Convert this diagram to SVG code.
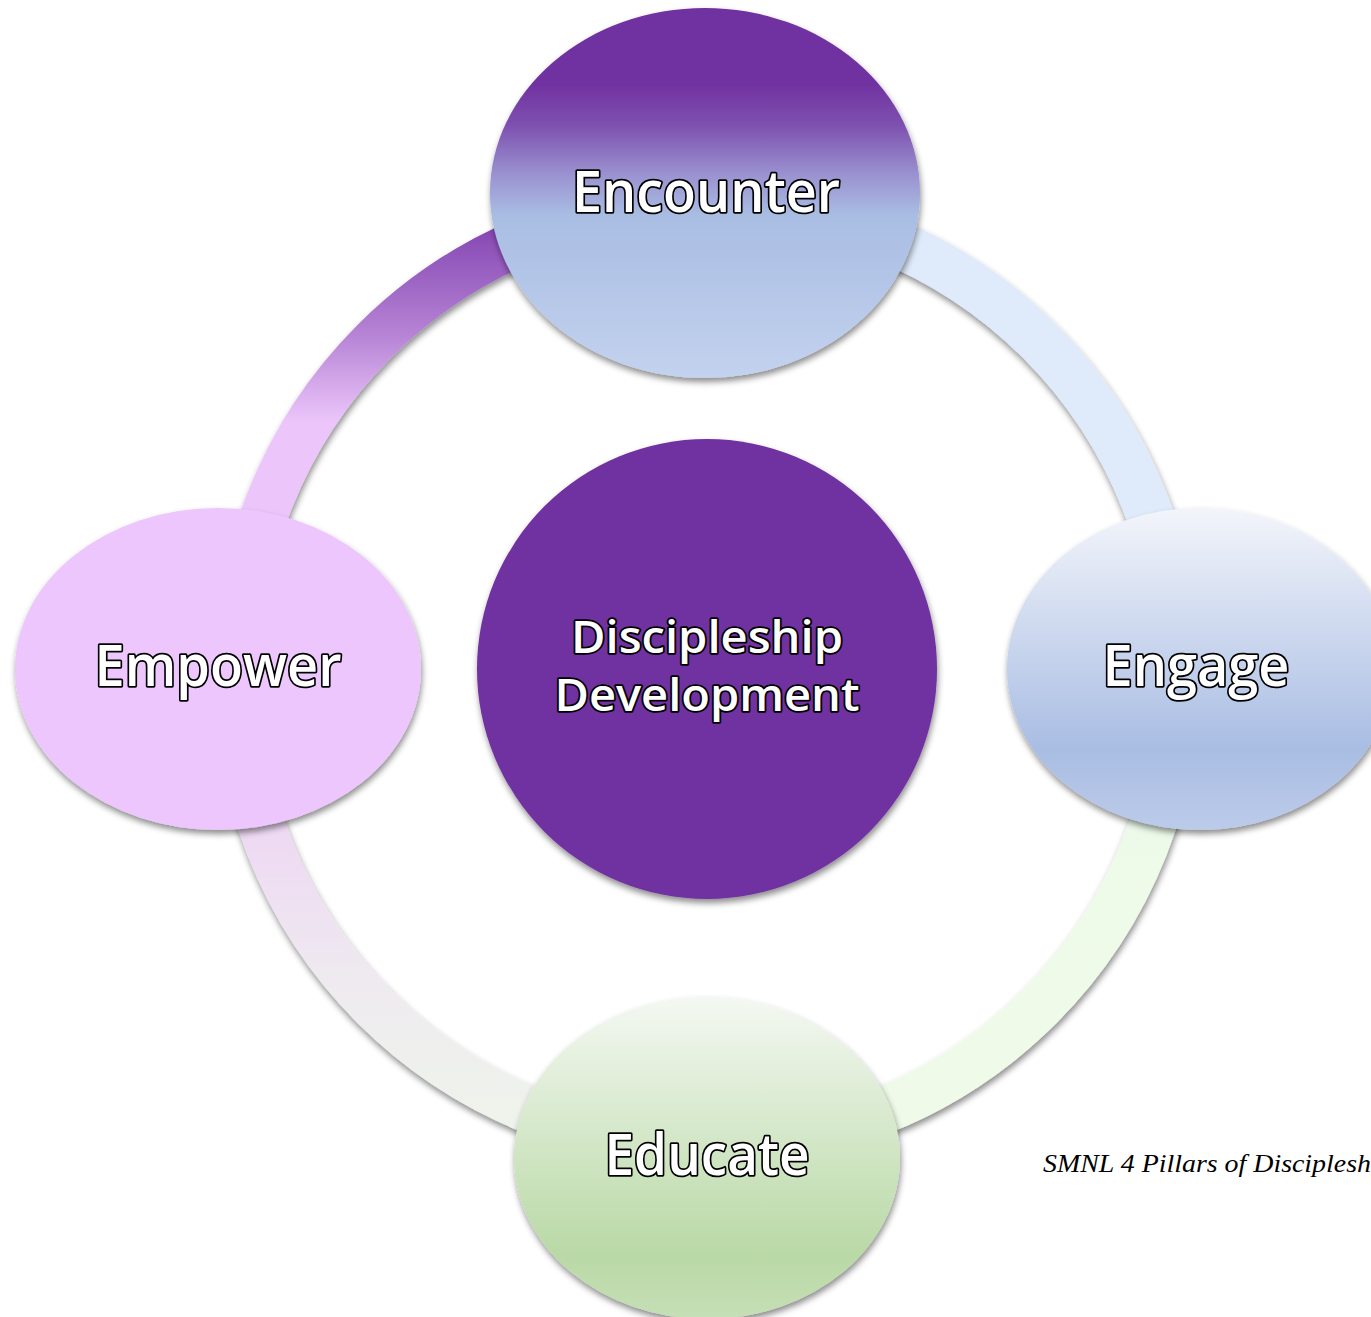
<svg xmlns="http://www.w3.org/2000/svg" width="1371" height="1317" viewBox="0 0 1371 1317">
  <style>
    .lbl { font-family: "Open Sans", Lato, "Liberation Sans", sans-serif; font-weight: 600; fill: #ffffff; stroke: #000000; stroke-width: 3.6; paint-order: stroke; stroke-linejoin: round; text-anchor: middle; }
    .big { font-size: 57px; }
    .mid { font-size: 46px; }
    .arc { fill: none; stroke-width: 47; }
    .caption { font-family: "Liberation Serif", "Times New Roman", serif; font-style: italic; font-size: 26px; fill: #000000; }
  </style>
  <defs>
    <filter id="shadow" x="-20%" y="-20%" width="140%" height="140%">
      <feDropShadow dx="1" dy="4" stdDeviation="3" flood-color="#000000" flood-opacity="0.45"/>
    </filter>
    <linearGradient id="gTL" gradientUnits="userSpaceOnUse" x1="0" y1="225" x2="0" y2="674">
      <stop offset="0" stop-color="#8446b2"/>
      <stop offset="0.24" stop-color="#b582d4"/>
      <stop offset="0.44" stop-color="#ecc6fb"/>
      <stop offset="1" stop-color="#ecc6fb"/>
    </linearGradient>
    <linearGradient id="gBL" gradientUnits="userSpaceOnUse" x1="0" y1="674" x2="0" y2="1144">
      <stop offset="0" stop-color="#ecc8fb"/>
      <stop offset="0.35" stop-color="#eedaf3"/>
      <stop offset="0.7" stop-color="#efecef"/>
      <stop offset="1" stop-color="#eef5ea"/>
    </linearGradient>
    <linearGradient id="gBR" gradientUnits="userSpaceOnUse" x1="0" y1="674" x2="0" y2="1144">
      <stop offset="0" stop-color="#e2f0f6"/>
      <stop offset="0.4" stop-color="#eefbe8"/>
      <stop offset="1" stop-color="#effbe8"/>
    </linearGradient>
    <linearGradient id="gEnc" x1="0" y1="0" x2="0" y2="1">
      <stop offset="0" stop-color="#7030a0"/>
      <stop offset="0.2" stop-color="#7030a0"/>
      <stop offset="0.32" stop-color="#7e52b0"/>
      <stop offset="0.45" stop-color="#9a92d0"/>
      <stop offset="0.56" stop-color="#a9bde3"/>
      <stop offset="1" stop-color="#c3d2ee"/>
    </linearGradient>
    <linearGradient id="gEng" x1="0" y1="0" x2="0" y2="1">
      <stop offset="0" stop-color="#f3f5fb"/>
      <stop offset="0.75" stop-color="#a9bde3"/>
      <stop offset="1" stop-color="#bccbea"/>
    </linearGradient>
    <linearGradient id="gEdu" x1="0" y1="0" x2="0" y2="1">
      <stop offset="0" stop-color="#f4f8f2"/>
      <stop offset="0.8" stop-color="#b9d9a6"/>
      <stop offset="1" stop-color="#c6dfb6"/>
    </linearGradient>
  </defs>
  <rect width="1371" height="1317" fill="#ffffff"/>

  <g id="connectors" filter="url(#shadow)">
    <path class="arc" stroke="url(#gTL)" d="M 707 203.5 A 470.5 470.5 0 0 0 236.5 674"/>
    <path class="arc" stroke="#dfebfb" d="M 707 203.5 A 470.5 470.5 0 0 1 1177.5 674"/>
    <path class="arc" stroke="url(#gBR)" d="M 1177.5 674 A 470.5 470.5 0 0 1 707 1144.5"/>
    <path class="arc" stroke="url(#gBL)" d="M 236.5 674 A 470.5 470.5 0 0 0 707 1144.5"/>
  </g>

  <g id="node-center">
    <circle cx="707" cy="669" r="230" fill="#7030a0" filter="url(#shadow)"/>
    <text class="lbl mid" x="707" y="653" textLength="272" lengthAdjust="spacingAndGlyphs">Discipleship</text>
    <text class="lbl mid" x="707" y="711" textLength="305" lengthAdjust="spacingAndGlyphs">Development</text>
  </g>

  <g id="node-encounter">
    <ellipse cx="705" cy="193" rx="215" ry="185" fill="url(#gEnc)" filter="url(#shadow)"/>
    <text class="lbl big" x="706" y="212" textLength="268" lengthAdjust="spacingAndGlyphs">Encounter</text>
  </g>

  <g id="node-engage">
    <ellipse cx="1200" cy="669" rx="193" ry="161" fill="url(#gEng)" filter="url(#shadow)"/>
    <text class="lbl big" x="1196" y="686" textLength="187" lengthAdjust="spacingAndGlyphs">Engage</text>
  </g>

  <g id="node-educate">
    <ellipse cx="707" cy="1158" rx="193" ry="161" fill="url(#gEdu)" filter="url(#shadow)"/>
    <text class="lbl big" x="707" y="1175" textLength="205" lengthAdjust="spacingAndGlyphs">Educate</text>
  </g>

  <g id="node-empower">
    <ellipse cx="218" cy="669" rx="203" ry="161" fill="#ecc6fc" filter="url(#shadow)"/>
    <text class="lbl big" x="218" y="686" textLength="247" lengthAdjust="spacingAndGlyphs">Empower</text>
  </g>

  <text class="caption" x="1043" y="1172" textLength="328" lengthAdjust="spacingAndGlyphs">SMNL 4 Pillars of Disciplesh</text>
</svg>
